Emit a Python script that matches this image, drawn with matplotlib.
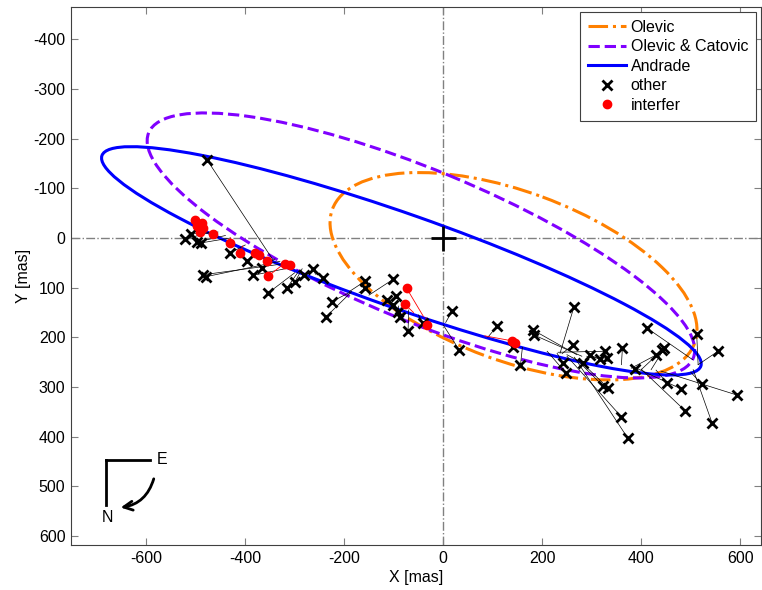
import matplotlib
matplotlib.use("Agg")
import matplotlib.pyplot as plt
from matplotlib.patches import Ellipse
from matplotlib.lines import Line2D

plt.rcParams['font.family'] = ['Liberation Sans', 'DejaVu Sans']
plt.rcParams['font.size'] = 11.5
plt.rcParams['axes.unicode_minus'] = False

# ---- orbit ellipses (centre x, centre y, full width, full height, angle deg)
orbit_names = ["Olevic", "Olevic & Catovic", "Andrade"]
orbit_cx = [142, -45, -84.5]
orbit_cy = [77, 15, 46]
orbit_w = [780, 1190, 1282]
orbit_h = [340, 304, 189]
orbit_ang = [20.2, 22.4, 19.3]

# ---- "other" observations and their ephemeris positions
other_x = [-477, -522, -510, -497, -490, -485, -480, -430, -397, -384, -366, -354, -316, -300,
           -281, -263, -243, -225, -237, -158, -158, -101, -96, -114, -101, -91, -88, -71, -41,
           18, 32, 109, 140, 156, 181, 183, 264, 262, 242, 248, 282, 296, 316, 326, 330, 362,
           323, 333, 360, 373, 387, 411, 429, 443, 447, 452, 481, 489, 512, 522, 543, 555, 593]
other_y = [-157, 2, -8, 8, 10, 74, 78, 30, 46, 75, 60, 111, 101, 89,
           74, 62, 81, 128, 159, 87, 101, 83, 117, 125, 135, 149, 159, 187, 171,
           147, 225, 177, 219, 256, 185, 195, 139, 215, 252, 272, 252, 236, 244, 228, 242, 222,
           298, 302, 360, 403, 264, 181, 236, 225, 222, 292, 304, 348, 193, 294, 372, 228, 316]
other_ex = [-344, -460, -455, -440, -430, -316, -330, -400, -380, -300, -340, -300, -290, -285,
            -270, -258, -240, -188, -185, -190, -170, -150, -110, -115, -100, -90, -85, -70, -50,
            5, 0, 90, 150, 160, 270, 280, 236, 240, 230, 210, 250, 320, 340, 232, 290, 360,
            270, 275, 250, 265, 385, 504, 380, 400, 420, 430, 390, 400, 515, 500, 505, 515, 440]
other_ey = [44, -14, -12, -5, 0, 51, 47, 14, 30, 58, 42, 70, 64, 62,
            70, 73, 80, 109, 108, 108, 110, 115, 128, 127, 132, 137, 140, 145, 155,
            170, 175, 200, 215, 220, 235, 238, 232, 233, 232, 228, 235, 246, 250, 230, 238, 255,
            245, 246, 238, 240, 262, 245, 262, 265, 265, 266, 262, 264, 255, 270, 265, 255, 268]

# ---- interferometric observations and their ephemeris positions
interf_x = [-501, -487, -497, -485, -492, -465, -431, -410, -380, -372, -356, -354, -320, -310,
            -74, -78, -33, 139, 145]
interf_y = [-36, -30, -24, -20, -12, -8, 10, 30, 30, 34, 46, 77, 52, 54,
            101, 133, 175, 207, 211]
interf_ex = [-490, -480, -480, -478, -478, -460, -430, -405, -380, -370, -350, -322, -318, -308,
             -40, -60, -35, 84, 140]
interf_ey = [-30, -26, -22, -20, -16, -14, 0, 16, 28, 32, 40, 52, 52, 55,
             158, 150, 160, 197, 210]

x_ticks = [-600, -400, -200, 0, 200, 400, 600]
y_ticks = [-400, -300, -200, -100, 0, 100, 200, 300, 400, 500, 600]

fig = plt.figure(figsize=(7.62, 5.90), dpi=100)
ax = fig.add_axes([71 / 762, 1 - 545 / 590, 690 / 762, 538 / 590])

ax.axhline(0, color='#808080', lw=1.0, ls='-.', zorder=1)
ax.axvline(0, color='#808080', lw=1.0, ls='-.', zorder=1)

styles = [dict(color='#FF8000', ls='-.'), dict(color='#8000FF', ls='--'), dict(color='#0000FF', ls='-')]
for i in range(3):
    e = Ellipse((orbit_cx[i], orbit_cy[i]), orbit_w[i], orbit_h[i], angle=orbit_ang[i],
                fill=False, lw=2.2, zorder=2, **styles[i])
    ax.add_patch(e)

for x0, y0, x1, y1 in zip(other_x, other_y, other_ex, other_ey):
    ax.plot([x0, x1], [y0, y1], color='black', lw=0.5, zorder=3)
for x0, y0, x1, y1 in zip(interf_x, interf_y, interf_ex, interf_ey):
    ax.plot([x0, x1], [y0, y1], color='red', lw=0.6, zorder=3)

ax.plot(other_x, other_y, 'x', color='black', ms=7, mew=2, ls='none', zorder=4)
ax.plot(interf_x, interf_y, 'o', color='red', ms=6, mec='red', ls='none', zorder=5)

ax.plot([0], [0], '+', color='black', ms=18, mew=2, zorder=6)

ax.set_xlim(-752, 642)
ax.set_ylim(618, -465)
ax.set_xticks(x_ticks)
ax.set_yticks(y_ticks)
ax.tick_params(direction='in', top=True, right=True, color='#808080', length=5, labelsize=11.5, pad=4)
for s in ax.spines.values():
    s.set_color('#404040')
    s.set_linewidth(0.8)
ax.set_xlabel('X [mas]', fontsize=11.5, labelpad=3)
ax.set_ylabel('Y [mas]', fontsize=11.5, labelpad=2)

# compass
ax.plot([0.0507, 0.1145], [0.158, 0.158], color='black', lw=2, transform=ax.transAxes)
ax.plot([0.0507, 0.0507], [0.158, 0.0743], color='black', lw=2, transform=ax.transAxes)
ax.text(0.124, 0.158, 'E', transform=ax.transAxes, fontsize=11.5, ha='left', va='center')
ax.text(0.0525, 0.052, 'N', transform=ax.transAxes, fontsize=11.5, ha='center', va='center')
ax.annotate('', xy=(0.068, 0.069), xytext=(0.121, 0.128), xycoords='axes fraction',
            arrowprops=dict(arrowstyle='->', lw=2, color='black', connectionstyle='arc3,rad=-0.35',
                            mutation_scale=16))

handles = [Line2D([], [], lw=2.2, **styles[0]),
           Line2D([], [], lw=2.2, **styles[1]),
           Line2D([], [], lw=2.2, **styles[2]),
           Line2D([], [], marker='x', color='black', ms=7, mew=2, ls='none'),
           Line2D([], [], marker='o', color='red', ms=6, ls='none')]
labels = orbit_names + ['other', 'interfer']
leg = ax.legend(handles, labels, loc='upper right', fontsize=11.5, fancybox=False, framealpha=1,
                edgecolor='#404040', borderaxespad=0.3, handlelength=2.4, labelspacing=0.28,
                borderpad=0.5, handletextpad=0.3)
leg.get_frame().set_linewidth(0.8)

fig.savefig('out.png', dpi=100)
